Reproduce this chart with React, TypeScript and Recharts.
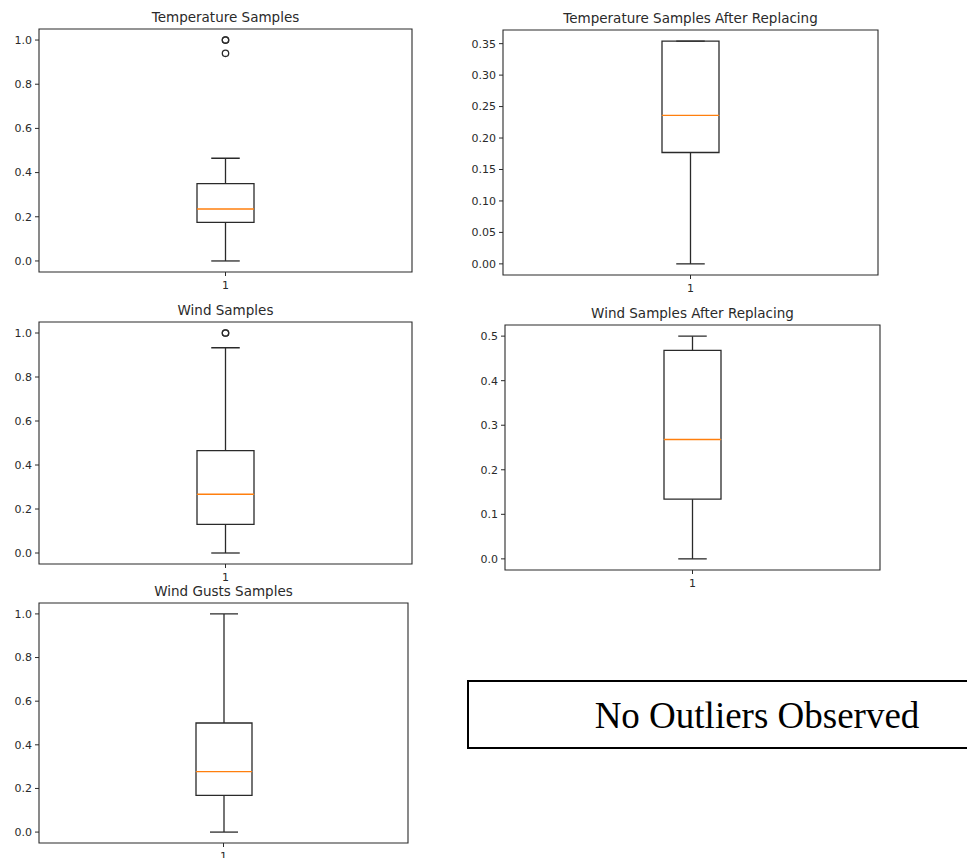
import {
  ComposedChart,
  Bar,
  Scatter,
  XAxis,
  YAxis,
  ReferenceArea,
} from "recharts";

// box stats: [min whisker, q1, median, q3, max whisker]
const tempStats = [0, 0.175, 0.235, 0.35, 0.465];
const tempOutliers = [1.0, 1.0, 0.94];
const tempAfterStats = [0, 0.177, 0.236, 0.354, 0.354];
const windStats = [0, 0.13, 0.267, 0.465, 0.933];
const windOutliers = [1.0, 1.0];
const windAfterStats = [0, 0.134, 0.268, 0.468, 0.5];
const gustStats = [0, 0.168, 0.277, 0.5, 1.0];

const category = "1";
const ticksUnit = [0, 0.2, 0.4, 0.6, 0.8, 1.0];
const ticksTempAfter = [0, 0.05, 0.1, 0.15, 0.2, 0.25, 0.3, 0.35];
const ticksWindAfter = [0, 0.1, 0.2, 0.3, 0.4, 0.5];

const INK = "#2a2a2a";
const MEDIAN = "#ff7f0e";

interface Frame {
  x0: number;
  x1: number;
  y0: number;
  y1: number;
}

interface PanelProps {
  title: string;
  frame: Frame;
  domain: [number, number];
  ticks: number[];
  digits: number;
  stats: number[];
  outliers?: number[];
}

// lower whisker: stem + cap at the bottom
const LowWhisker = (p: any) => {
  const cx = p.x + p.width / 2;
  const top = Math.min(p.y, p.y + p.height);
  const bot = Math.max(p.y, p.y + p.height);
  const half = p.width / 4;
  return (
    <g>
      <line x1={cx} x2={cx} y1={top} y2={bot} stroke={INK} strokeWidth={1.3} />
      <line x1={cx - half} x2={cx + half} y1={bot} y2={bot} stroke={INK} strokeWidth={1.3} />
    </g>
  );
};

// upper whisker: stem + cap at the top
const HighWhisker = (p: any) => {
  const cx = p.x + p.width / 2;
  const top = Math.min(p.y, p.y + p.height);
  const bot = Math.max(p.y, p.y + p.height);
  const half = p.width / 4;
  return (
    <g>
      <line x1={cx} x2={cx} y1={top} y2={bot} stroke={INK} strokeWidth={1.3} />
      <line x1={cx - half} x2={cx + half} y1={top} y2={top} stroke={INK} strokeWidth={1.3} />
    </g>
  );
};

// lower half of the box (q1 -> median), no top edge
const BoxLow = (p: any) => {
  const top = Math.min(p.y, p.y + p.height);
  const bot = Math.max(p.y, p.y + p.height);
  const l = p.x;
  const r = p.x + p.width;
  return (
    <path
      d={`M${l},${top} L${l},${bot} L${r},${bot} L${r},${top}`}
      fill="none"
      stroke={INK}
      strokeWidth={1.3}
    />
  );
};

// upper half of the box (median -> q3) plus the median line
const BoxHigh = (p: any) => {
  const top = Math.min(p.y, p.y + p.height);
  const bot = Math.max(p.y, p.y + p.height);
  const l = p.x;
  const r = p.x + p.width;
  return (
    <g>
      <path
        d={`M${l},${bot} L${l},${top} L${r},${top} L${r},${bot}`}
        fill="none"
        stroke={INK}
        strokeWidth={1.3}
      />
      <line x1={l} x2={r} y1={bot} y2={bot} stroke={MEDIAN} strokeWidth={1.4} />
    </g>
  );
};

const Flier = (p: any) => (
  <circle cx={p.cx} cy={p.cy} r={3.2} fill="none" stroke={INK} strokeWidth={1.3} />
);

function BoxPanel({ title, frame, domain, ticks, digits, stats, outliers = [] }: PanelProps) {
  const yW = 40;
  const xH = 26;
  const padT = 6;
  const padR = 6;
  const plotW = frame.x1 - frame.x0;
  const plotH = frame.y1 - frame.y0;
  const boxW = Math.round(plotW * 0.153);

  const [mn, q1, med, q3, mx] = stats;
  const row: Record<string, any> = {
    name: category,
    base: mn,
    lowW: q1 - mn,
    boxLo: med - q1,
    boxHi: q3 - med,
    highW: mx - q3,
  };
  outliers.forEach((v, i) => {
    row[`out${i}`] = v;
  });

  return (
    <>
      <div
        style={{
          position: "absolute",
          left: frame.x0,
          width: plotW,
          top: frame.y0 - 20,
          textAlign: "center",
          fontSize: 13.5,
          lineHeight: "16px",
          color: INK,
        }}
      >
        {title}
      </div>
      <div style={{ position: "absolute", left: frame.x0 - yW, top: frame.y0 - padT }}>
        <ComposedChart
          width={plotW + yW + padR}
          height={plotH + padT + xH}
          data={[row]}
          margin={{ top: padT, right: padR, left: 0, bottom: 0 }}
          barCategoryGap={0}
        >
          <XAxis
            dataKey="name"
            type="category"
            height={xH}
            axisLine={false}
            tickLine={{ stroke: INK }}
            tickSize={4}
            tickMargin={5}
            tick={{ fontSize: 11, fill: INK }}
            padding={{ left: 0, right: 0 }}
          />
          <YAxis
            type="number"
            width={yW}
            domain={domain}
            allowDataOverflow
            ticks={ticks}
            interval={0}
            axisLine={false}
            tickLine={{ stroke: INK }}
            tickSize={4}
            tickMargin={3}
            tick={{ fontSize: 11, fill: INK }}
            tickFormatter={(v: number) => v.toFixed(digits)}
          />
          <ReferenceArea
            y1={domain[0]}
            y2={domain[1]}
            fill="none"
            fillOpacity={0}
            stroke={INK}
            strokeWidth={1.1}
            ifOverflow="visible"
          />
          <Bar dataKey="base" stackId="b" barSize={boxW} fill="none" isAnimationActive={false} />
          <Bar dataKey="lowW" stackId="b" barSize={boxW} shape={LowWhisker} isAnimationActive={false} />
          <Bar dataKey="boxLo" stackId="b" barSize={boxW} shape={BoxLow} isAnimationActive={false} />
          <Bar dataKey="boxHi" stackId="b" barSize={boxW} shape={BoxHigh} isAnimationActive={false} />
          <Bar dataKey="highW" stackId="b" barSize={boxW} shape={HighWhisker} isAnimationActive={false} />
          {outliers.map((_, i) => (
            <Scatter key={i} dataKey={`out${i}`} shape={Flier} isAnimationActive={false} />
          ))}
        </ComposedChart>
      </div>
    </>
  );
}

export default function App() {
  return (
    <div
      style={{
        position: "absolute",
        left: 0,
        top: 0,
        width: 967,
        height: 858,
        overflow: "hidden",
        background: "#fff",
        fontFamily: "'DejaVu Sans', sans-serif",
      }}
    >
      <BoxPanel
        title="Temperature Samples"
        frame={{ x0: 39, x1: 412, y0: 29, y1: 272 }}
        domain={[-0.05, 1.05]}
        ticks={ticksUnit}
        digits={1}
        stats={tempStats}
        outliers={tempOutliers}
      />
      <BoxPanel
        title="Temperature Samples After Replacing"
        frame={{ x0: 503, x1: 878, y0: 30, y1: 275 }}
        domain={[-0.0177, 0.3717]}
        ticks={ticksTempAfter}
        digits={2}
        stats={tempAfterStats}
      />
      <BoxPanel
        title="Wind Samples"
        frame={{ x0: 39, x1: 412, y0: 322, y1: 564 }}
        domain={[-0.05, 1.05]}
        ticks={ticksUnit}
        digits={1}
        stats={windStats}
        outliers={windOutliers}
      />
      <BoxPanel
        title="Wind Samples After Replacing"
        frame={{ x0: 505, x1: 880, y0: 325, y1: 570 }}
        domain={[-0.025, 0.525]}
        ticks={ticksWindAfter}
        digits={1}
        stats={windAfterStats}
      />
      <BoxPanel
        title="Wind Gusts Samples"
        frame={{ x0: 39, x1: 408, y0: 603, y1: 843 }}
        domain={[-0.05, 1.05]}
        ticks={ticksUnit}
        digits={1}
        stats={gustStats}
      />
      <div
        style={{
          position: "absolute",
          left: 467,
          top: 680,
          width: 580,
          height: 69,
          boxSizing: "border-box",
          border: "2px solid #000",
        }}
      />
      <div
        style={{
          position: "absolute",
          left: 467,
          width: 580,
          top: 697,
          textAlign: "center",
          fontFamily: "'Liberation Serif', 'Times New Roman', serif",
          fontSize: 37,
          lineHeight: "37px",
          color: "#000",
        }}
      >
        No Outliers Observed
      </div>
    </div>
  );
}
